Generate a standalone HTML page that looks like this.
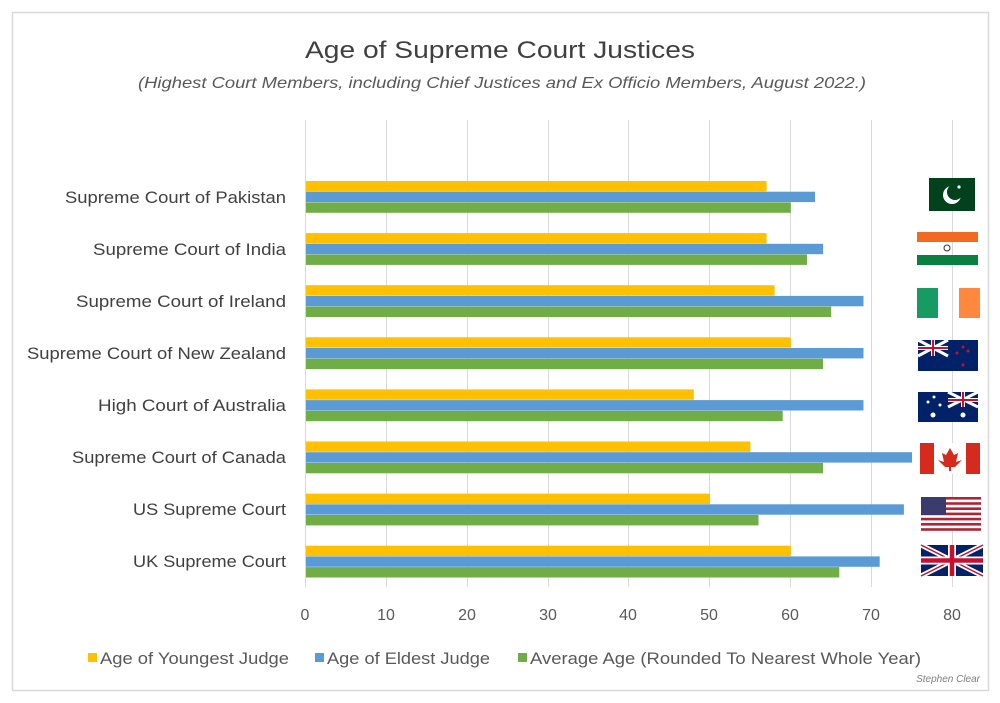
<!DOCTYPE html>
<html><head><meta charset="utf-8"><style>
html,body{margin:0;padding:0;background:#fff;}
svg{display:block;font-family:"Liberation Sans",sans-serif;}
</style></head><body>
<svg width="1000" height="703" viewBox="0 0 1000 703" xmlns="http://www.w3.org/2000/svg">
<rect x="0" y="0" width="1000" height="703" fill="#fff"/>
<rect x="12.5" y="12.5" width="976" height="678" fill="#fff" stroke="#d9d9d9" stroke-width="1.5"/>
<text x="500" y="58" text-anchor="middle" font-size="24" fill="#404040" textLength="390" lengthAdjust="spacingAndGlyphs">Age of Supreme Court Justices</text>
<text x="502" y="88" text-anchor="middle" font-size="16" font-style="italic" fill="#595959" textLength="728" lengthAdjust="spacingAndGlyphs">(Highest Court Members, including Chief Justices and Ex Officio Members, August 2022.)</text>
<g stroke="#d9d9d9" stroke-width="1">
<line x1="305.5" y1="120" x2="305.5" y2="587"/><line x1="386.5" y1="120" x2="386.5" y2="587"/>
<line x1="467.5" y1="120" x2="467.5" y2="587"/><line x1="548.5" y1="120" x2="548.5" y2="587"/>
<line x1="628.5" y1="120" x2="628.5" y2="587"/><line x1="709.5" y1="120" x2="709.5" y2="587"/>
<line x1="790.5" y1="120" x2="790.5" y2="587"/><line x1="871.5" y1="120" x2="871.5" y2="587"/>
<line x1="952.5" y1="120" x2="952.5" y2="587"/>
</g>
<g font-size="16" fill="#595959" text-anchor="middle">
<text x="305" y="620">0</text><text x="386" y="620">10</text><text x="467" y="620">20</text><text x="548" y="620">30</text><text x="628" y="620">40</text><text x="709" y="620">50</text><text x="790" y="620">60</text><text x="871" y="620">70</text><text x="952" y="620">80</text>
</g>
<g font-size="17" fill="#404040">
<text x="65" y="203" textLength="221" lengthAdjust="spacingAndGlyphs">Supreme Court of Pakistan</text>
<text x="93" y="255" textLength="193" lengthAdjust="spacingAndGlyphs">Supreme Court of India</text>
<text x="76" y="307" textLength="210" lengthAdjust="spacingAndGlyphs">Supreme Court of Ireland</text>
<text x="27" y="359" textLength="259" lengthAdjust="spacingAndGlyphs">Supreme Court of New Zealand</text>
<text x="98" y="411" textLength="188" lengthAdjust="spacingAndGlyphs">High Court of Australia</text>
<text x="72" y="463" textLength="214" lengthAdjust="spacingAndGlyphs">Supreme Court of Canada</text>
<text x="133" y="515" textLength="153" lengthAdjust="spacingAndGlyphs">US Supreme Court</text>
<text x="133" y="567" textLength="153" lengthAdjust="spacingAndGlyphs">UK Supreme Court</text>
</g>
<g>
<rect x="306" y="181" width="460.6" height="10.4" fill="#ffc000"/><rect x="306" y="191.7" width="509" height="10.4" fill="#5b9bd5"/><rect x="306" y="202.4" width="484.8" height="10.4" fill="#70ad47"/>
<rect x="306" y="233.1" width="460.6" height="10.4" fill="#ffc000"/><rect x="306" y="243.8" width="517.1" height="10.4" fill="#5b9bd5"/><rect x="306" y="254.5" width="501" height="10.4" fill="#70ad47"/>
<rect x="306" y="285.2" width="468.6" height="10.4" fill="#ffc000"/><rect x="306" y="295.9" width="557.5" height="10.4" fill="#5b9bd5"/><rect x="306" y="306.6" width="525.2" height="10.4" fill="#70ad47"/>
<rect x="306" y="337.3" width="484.8" height="10.4" fill="#ffc000"/><rect x="306" y="348" width="557.5" height="10.4" fill="#5b9bd5"/><rect x="306" y="358.7" width="517.1" height="10.4" fill="#70ad47"/>
<rect x="306" y="389.4" width="387.8" height="10.4" fill="#ffc000"/><rect x="306" y="400.1" width="557.5" height="10.4" fill="#5b9bd5"/><rect x="306" y="410.8" width="476.7" height="10.4" fill="#70ad47"/>
<rect x="306" y="441.5" width="444.4" height="10.4" fill="#ffc000"/><rect x="306" y="452.2" width="606" height="10.4" fill="#5b9bd5"/><rect x="306" y="462.9" width="517.1" height="10.4" fill="#70ad47"/>
<rect x="306" y="493.6" width="404" height="10.4" fill="#ffc000"/><rect x="306" y="504.3" width="597.9" height="10.4" fill="#5b9bd5"/><rect x="306" y="515" width="452.5" height="10.4" fill="#70ad47"/>
<rect x="306" y="545.7" width="484.8" height="10.4" fill="#ffc000"/><rect x="306" y="556.4" width="573.7" height="10.4" fill="#5b9bd5"/><rect x="306" y="567.1" width="533.3" height="10.4" fill="#70ad47"/>
</g>
<!-- flags -->
<rect x="929" y="178" width="46" height="33" fill="#01411c"/>
<circle cx="952" cy="195" r="9" fill="#fff"/><circle cx="955" cy="192" r="8" fill="#01411c"/><circle cx="959" cy="187" r="1.6" fill="#fff"/>
<rect x="917" y="232" width="61" height="10" fill="#f26a21"/><rect x="917" y="255" width="61" height="10" fill="#0a8040"/><circle cx="947" cy="248" r="3" fill="none" stroke="#333" stroke-width="1"/>
<rect x="917" y="288" width="21" height="30" fill="#169b62"/><rect x="959" y="288" width="21" height="30" fill="#ff883e"/>
<rect x="918" y="340" width="60" height="31" fill="#012169"/>
<path d="M918 340L948 356M948 340L918 356" stroke="#fff" stroke-width="3"/><path d="M933 340V356M918 348H948" stroke="#fff" stroke-width="4"/><path d="M933 340V356M918 348H948" stroke="#c8102e" stroke-width="2"/>
<circle cx="957" cy="353" r="1.5" fill="#c8102e"/><circle cx="968" cy="351" r="1.5" fill="#c8102e"/><circle cx="963" cy="365" r="1.5" fill="#c8102e"/><circle cx="963" cy="347" r="1.5" fill="#c8102e"/>
<rect x="918" y="392" width="60" height="30" fill="#012169"/>
<path d="M948 392L978 407M978 392L948 407" stroke="#fff" stroke-width="3"/><path d="M963 392V407M948 400H978" stroke="#fff" stroke-width="4"/><path d="M963 392V407M948 400H978" stroke="#c8102e" stroke-width="2"/>
<circle cx="933" cy="415" r="2.5" fill="#fff"/><circle cx="963" cy="415" r="2.5" fill="#fff"/><circle cx="928" cy="402" r="1.5" fill="#fff"/><circle cx="940" cy="405" r="1.5" fill="#fff"/><circle cx="934" cy="397" r="1.5" fill="#fff"/>
<rect x="920" y="443" width="60" height="31" fill="#fff"/><rect x="920" y="443" width="14" height="31" fill="#d52b1e"/><rect x="966" y="443" width="14" height="31" fill="#d52b1e"/>
<path d="M950 448L954 455L958 453L956 462L962 460L955 467H945L938 460L944 462L942 453L946 455Z" fill="#d52b1e"/><rect x="949" y="466" width="2" height="5" fill="#d52b1e"/>
<rect x="921" y="497" width="60" height="34" fill="#fff"/>
<g fill="#b22234">
<rect x="921" y="497" width="60" height="2.6"/><rect x="921" y="502.2" width="60" height="2.6"/><rect x="921" y="507.4" width="60" height="2.6"/><rect x="921" y="512.6" width="60" height="2.6"/><rect x="921" y="517.8" width="60" height="2.6"/><rect x="921" y="523" width="60" height="2.6"/><rect x="921" y="528.2" width="60" height="2.6"/></g>
<rect x="921" y="497" width="25" height="18" fill="#3c3b6e"/>
<rect x="921" y="545" width="62" height="31" fill="#012169"/>
<path d="M921 545L983 576M983 545L921 576" stroke="#fff" stroke-width="5"/><path d="M921 545L983 576M983 545L921 576" stroke="#c8102e" stroke-width="1.5"/>
<path d="M952 545V576M921 560.5H983" stroke="#fff" stroke-width="8"/><path d="M952 545V576M921 560.5H983" stroke="#c8102e" stroke-width="4.5"/>
<!-- legend -->
<g font-size="17" fill="#595959">
<rect x="88" y="653" width="9" height="9" fill="#ffc000"/><text x="100" y="664" textLength="189" lengthAdjust="spacingAndGlyphs">Age of Youngest Judge</text>
<rect x="315" y="653" width="9" height="9" fill="#5b9bd5"/><text x="327" y="664" textLength="163" lengthAdjust="spacingAndGlyphs">Age of Eldest Judge</text>
<rect x="518" y="653" width="9" height="9" fill="#70ad47"/><text x="530" y="664" textLength="391" lengthAdjust="spacingAndGlyphs">Average Age (Rounded To Nearest Whole Year)</text>
</g>
<text x="980" y="682" text-anchor="end" font-size="10" font-style="italic" fill="#7f7f7f">Stephen Clear</text>
</svg>
</body></html>
